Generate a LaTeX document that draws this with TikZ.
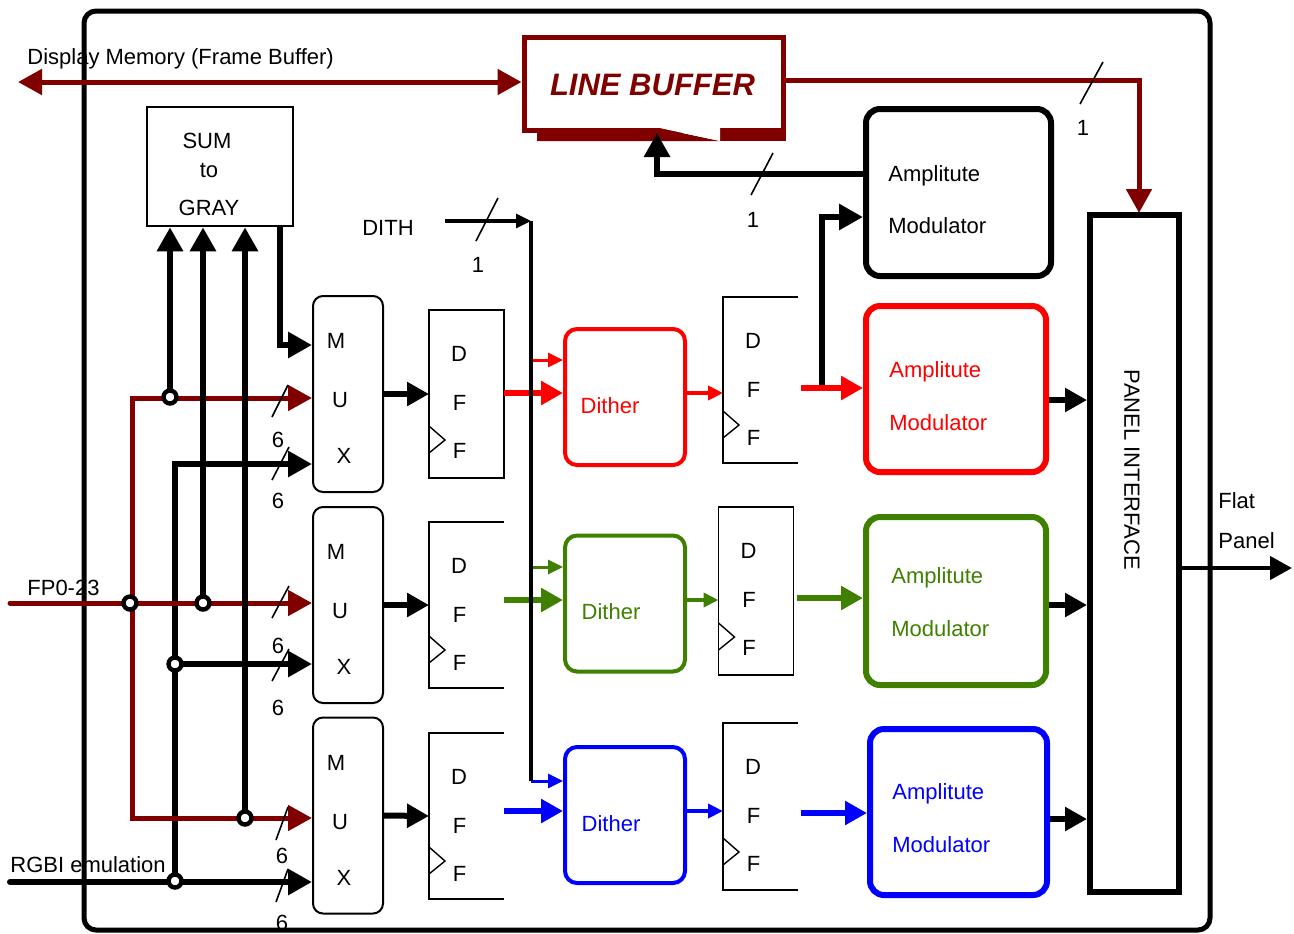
\documentclass[tikz,border=0pt]{standalone}
\usepackage{fontspec}
\setmainfont{Liberation Sans}
\usetikzlibrary{arrows.meta,calc}
\definecolor{drk}{RGB}{128,0,0}
\definecolor{grn}{RGB}{64,128,0}
\tikzset{
  BT/.tip={Triangle[length=12pt,width=12.5pt]},
  MT/.tip={Triangle[length=11pt,width=11.5pt]},
  ST/.tip={Triangle[length=7.5pt,width=7pt]},
  every node/.style={font=\fontsize{11pt}{13pt}\selectfont, inner sep=0pt},
  blk/.style={line width=3pt},
  drkl/.style={draw=drk, line width=2.5pt},
  muxbox/.style={draw, line width=1pt, rounded corners=5pt, minimum width=35pt, minimum height=98pt},
  ditherbox/.style={draw=#1, line width=2pt, rounded corners=6pt, minimum width=60pt, minimum height=68pt},
  ambox/.style={draw=#1, line width=3pt, rounded corners=7pt, minimum width=90pt, minimum height=83pt},
  slash/.style={line width=0.8pt},
  jdot/.style={circle, draw, fill=white, line width=2.2pt, minimum size=6.5pt},
  lbl/.style={anchor=base},
  lblw/.style={anchor=base west}
}
\begin{document}
\begin{tikzpicture}[x=0.5pt,y=-0.5pt]
\useasboundingbox (0,0) rectangle (1294,933);
% outer frame
\draw[line width=2.5pt, rounded corners=6pt] (84,11) rectangle (1210,930);

% ---------- boxes ----------
\node[draw=drk, line width=2.5pt, minimum width=129.5pt, minimum height=46.5pt] (lb) at (653.5,83.5) {};
\fill[drk] (537,128) -- (658,128) -- (720,141) -- (537,141) -- cycle;
\fill[drk] (720,128) rectangle (785.5,141);
\fill[white] (658,127.6) -- (720,127.6) -- (720,141) -- cycle;
\node[lbl, text=drk, font=\fontsize{15.5pt}{18pt}\selectfont\bfseries\itshape] (lbt) at (652.5,95) {LINE BUFFER};

\node[draw, line width=1.3pt, minimum width=73pt, minimum height=59.5pt] (sum) at (220,166.5) {};
\node[lbl] (suma) at (207,148) {SUM};
\node[lbl] (sumb) at (209,177) {to};
\node[lbl] (sumc) at (209,215) {GRAY};

\foreach \n/\cy/\t in {mux1/394/296, mux2/605/507, mux3/815.5/718}{
  \node[muxbox] (\n) at (348,\cy) {};
  \node[lbl] (\n-m) at (336,\t+52) {M};
  \node[lbl] (\n-u) at (340,\t+111) {U};
  \node[lbl] (\n-x) at (344,\t+167) {X};
}

\foreach \n/\cx/\cy/\h/\t in {dff1/466.5/394/84/310, dff2/466.5/605/83/522, dff3/466.5/816/83/733, dff4/760.5/380/83/297, dff5/756/591/84/507, dff6/760.5/806.5/83.5/723}{
  \node[minimum width=37.5pt, minimum height=\h pt, outer sep=0pt] (\n) at (\cx,\cy) {};
  \node[lbl] (\n-d) at (\cx-7.5,\t+51) {D};
  \node[lbl] (\n-f) at (\cx-7,\t+100) {F};
  \node[lbl] (\n-g) at (\cx-7,\t+148) {F};
  \draw[line width=0.7pt] ([yshift=26pt]\n.south west) -- ([xshift=8pt,yshift=19pt]\n.south west) -- ([yshift=12.5pt]\n.south west);
}
\foreach \n in {dff1,dff5}{
  \draw[line width=0.7pt] (\n.north west) rectangle (\n.south east);
}
\foreach \n in {dff2,dff3,dff4,dff6}{
  \draw[line width=0.7pt] (\n.north east) -- (\n.north west) -- (\n.south west) -- (\n.south east);
}

\node[ditherbox=red] (dr) at (625,397) {};
\node[ditherbox=grn] (dg) at (625,603.5) {};
\node[ditherbox=blue] (db) at (625,815) {};
\node[lbl, text=red] (drt) at (610,413) {Dither};
\node[lbl, text=grn] (dgt) at (611,619) {Dither};
\node[lbl, text=blue] (dbt) at (611,831) {Dither};

\node[ambox=black, minimum width=92.5pt, minimum height=83.5pt] (amk) at (958.5,192.5) {};
\node[ambox=red] (amr) at (956,389) {};
\node[ambox=grn, minimum height=84pt] (amg) at (956,601) {};
\node[ambox=blue, minimum width=88.5pt] (amb) at (958.5,812) {};
\node[lblw] (amka) at (888,181) {Amplitute};
\node[lblw] (amkb) at (888,233) {Modulator};
\node[lblw, text=red] (amra) at (889,377) {Amplitute};
\node[lblw, text=red] (amrb) at (889,430) {Modulator};
\node[lblw, text=grn] (amga) at (891,583) {Amplitute};
\node[lblw, text=grn] (amgb) at (891,636) {Modulator};
\node[lblw, text=blue] (amba) at (892,799) {Amplitute};
\node[lblw, text=blue] (ambb) at (892,852) {Modulator};

\node[draw, line width=3pt, minimum width=44.5pt, minimum height=338.5pt] (pi) at (1134.5,553.5) {};
\node[rotate=-90] (pit) at (1132,470) {PANEL INTERFACE};

% ---------- coordinates ----------
\coordinate (dmL) at (18,82);
\coordinate (lbR) at (785,80);
\coordinate (piT) at (1139,213);
\coordinate (amkO) at (866,174);
\coordinate (lbB) at (657,133);
\coordinate (rbr) at (822,388);
\coordinate (amkI) at (866,217);
\coordinate (sx) at (280,0);
\coordinate (m1s) at (313,345);
\coordinate (j1) at (170,397);
\coordinate (j0) at (130,603);
\coordinate (j2) at (203,603);
\coordinate (j3) at (245,818);
\coordinate (fp) at (10,603);
\coordinate (r1) at (132,398);
\coordinate (r3) at (132,818);
\coordinate (rg) at (10,882);
\coordinate (b1) at (175,464);
\coordinate (b2) at (175,664);
\coordinate (b3) at (175,882);
\coordinate (yr) at (0,393);
\coordinate (yg) at (0,600);
\coordinate (yb) at (0,811);
\coordinate (dsr) at (533,360);
\coordinate (dsg) at (533,567);
\coordinate (dithS) at (445,221);
\coordinate (dc) at (531,221);
\coordinate (dv) at (531,781);
\coordinate (r4) at (801,388);
\coordinate (g4) at (797,598);
\coordinate (b4) at (801,813);
\coordinate (pr) at (0,400);
\coordinate (pg) at (0,605);
\coordinate (pb) at (0,819);
\coordinate (out) at (1292,568);

% ---------- connectors ----------
% top
\draw[drkl, BT-BT] (dmL) -- (lb.west |- dmL);
\draw[drkl, -BT] (lb.east |- lbR) -| (piT);
\draw[blk, -BT] (amk.west |- amkO) -| (lbB);
\draw[blk, -BT] (rbr) |- (amk.west |- amkI);

% left side
\draw[blk, -BT] (sum.south -| sx) |- (mux1.west |- m1s);
\draw[blk, BT-] (mux1.west |- b1) -- (b1) -- (b3);
\draw[blk, -BT] (b2) -- (mux2.west |- b2);
\draw[blk, line cap=round, -BT] (rg) -- (mux3.west |- rg);
\draw[drkl, line cap=round, -BT] (fp) -- (mux2.west |- fp);
\draw[drkl, BT-BT] (mux1.west |- r1) -- (r1) -- (r3) -- (mux3.west |- r3);
\draw[blk, -BT] (j1) -- (j1 |- sum.south);
\draw[blk, -BT] (j2) -- (j2 |- sum.south);
\draw[blk, -BT] (j3) -- (j3 |- sum.south);

% mux -> dff
\draw[blk, -MT] (mux1.east) -- (dff1.west);
\draw[blk, -MT] (mux2.east) -- (dff2.west);
\draw[blk, -MT] (mux3.east) -- (dff3.west);

% dff -> dither
\draw[red, line width=3pt, -MT] (dff1.east |- yr) -- (dr.west |- yr);
\draw[grn, line width=3pt, -MT] (dff2.east |- yg) -- (dg.west |- yg);
\draw[blue, line width=3pt, -MT] (dff3.east |- yb) -- (db.west |- yb);
\draw[red, line width=1.5pt, -ST] (dsr) -- (dr.west |- dsr);
\draw[grn, line width=1.5pt, -ST] (dsg) -- (dg.west |- dsg);
\draw[blue, line width=1.5pt, -ST] (dv) -- (db.west |- dv);

% DITH
\node (dith) at (388,228) {DITH};
\draw[line width=1.6pt, -ST] (dithS) -- (dc);
\draw[line width=2pt] (dc) -- (dv);

% dither -> dff
\draw[red, line width=2pt, -ST] (dr.east |- yr) -- (dff4.west |- yr);
\draw[grn, line width=2pt, -ST] (dg.east |- yg) -- (dff5.west |- yg);
\draw[blue, line width=2pt, -ST] (db.east |- yb) -- (dff6.west |- yb);

% dff -> AM
\draw[red, line width=3pt, -MT] (r4) -- (amr.west |- r4);
\draw[grn, line width=3pt, -MT] (g4) -- (amg.west |- g4);
\draw[blue, line width=3pt, -MT] (b4) -- (amb.west |- b4);

% AM -> panel
\draw[blk, -MT] (amr.east |- pr) -- (pi.west |- pr);
\draw[blk, -MT] (amg.east |- pg) -- (pi.west |- pg);
\draw[blk, -MT] (amb.east |- pb) -- (pi.west |- pb);
\draw[line width=2.2pt, -MT] (pi.east |- out) -- (out);

% junction dots
\node[jdot] (dj1) at (j1) {};
\node[jdot] (dj0) at (j0) {};
\node[jdot] (dj2) at (j2) {};
\node[jdot] (dj3) at (j3) {};
\node[jdot] (db2) at (b2) {};
\node[jdot] (db3) at (175,881) {};

% bus slashes
\draw[slash] (272,417) -- (288,385);
\draw[slash] (272,480) -- (289,447);
\draw[slash] (272,618) -- (289,586);
\draw[slash] (272,681) -- (289,649);
\draw[slash] (276,840) -- (288,807);
\draw[slash] (276,902) -- (288,869);
\draw[slash] (1080,104) -- (1103,62);
\draw[slash] (751,195) -- (773,153);
\draw[slash] (476,241) -- (498,198);

% labels
\node[lbl] (w1) at (278,447) {6};
\node[lbl] (w2) at (278,508) {6};
\node[lbl] (w3) at (278,653) {6};
\node[lbl] (w4) at (278,715) {6};
\node[lbl] (w5) at (282,863) {6};
\node[lbl] (w6) at (282,930) {6};
\node[lbl] (o1) at (1083,135) {1};
\node[lbl] (o2) at (753,227) {1};
\node[lbl] (o3) at (478,272) {1};

\node[lblw] (dmt) at (27,64) {Display Memory (Frame Buffer)};
\node[lblw] (fpt) at (27,595) {FP0-23};
\node[lblw] (rgt) at (10,872) {RGBI emulation};
\node[lblw] (flat) at (1218,508) {Flat};
\node[lblw] (panel) at (1218,548) {Panel};
\end{tikzpicture}
\end{document}
